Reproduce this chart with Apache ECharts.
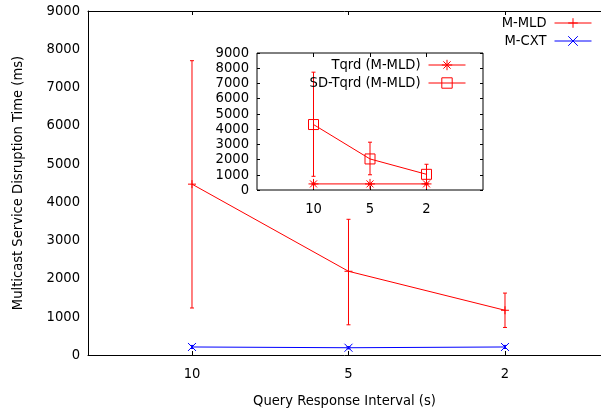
<!DOCTYPE html>
<html><head><meta charset="utf-8">
<script src="https://cdn.jsdelivr.net/npm/echarts@6/dist/echarts.min.js"></script>
<style>html,body{margin:0;padding:0;background:#fff}#c{width:601px;height:414px}</style>
</head><body><div id="c"></div>
<script>
// ---- data ----
const categories = ['10', '5', '2'];
const mmld = [4470, 2190, 1170];
const mmldLow = [1230, 790, 720];
const mmldHigh = [7700, 3550, 1620];
const mcxt = [210, 190, 210];
const mcxtLow = [170, 160, 170];
const mcxtHigh = [250, 220, 250];
const tqrd = [400, 400, 400];
const tqrdLow = [360, 360, 360];
const tqrdHigh = [440, 440, 440];
const sdTqrd = [4300, 2040, 1030];
const sdTqrdLow = [900, 1000, 420];
const sdTqrdHigh = [7740, 3140, 1690];

const FONT = "'DejaVu Sans Condensed', 'DejaVu Sans', sans-serif";
const pts = arr => arr.map((v, i) => [i, v]);
const errs = (lo, hi) => lo.map((v, i) => [i, v, hi[i]]);

function errRender(color, cap) {
  return function (params, api) {
    const x = api.value(0);
    const a = api.coord([x, api.value(1)]);
    const b = api.coord([x, api.value(2)]);
    const st = { stroke: color, lineWidth: 1 };
    return { type: 'group', children: [
      { type: 'line', shape: { x1: a[0], y1: a[1], x2: b[0], y2: b[1] }, style: st },
      { type: 'line', shape: { x1: a[0] - cap, y1: a[1], x2: a[0] + cap, y2: a[1] }, style: st },
      { type: 'line', shape: { x1: b[0] - cap, y1: b[1], x2: b[0] + cap, y2: b[1] }, style: st }
    ]};
  };
}

const PLUS = 'path://M0,4L8,4M4,0L4,8';
const CROSS = 'path://M0,0L8,8M0,8L8,0';
const STAR = 'path://M0,5L10,5M5,0L5,10M1.5,1.5L8.5,8.5M1.5,8.5L8.5,1.5';
const SQUARE = 'path://M0,0L10,0L10,10L0,10Z';
const RED = '#ff0000', BLUE = '#0000ff';
const CLEAR = 'rgba(255,255,255,0)';

const txt = { fontFamily: FONT, fontSize: 14.6, color: '#000' };
const blackLine = { show: true, onZero: false, lineStyle: { color: '#000', width: 1 } };
function xAx(grid, pos, min, max, showLabel, extra) {
  return Object.assign({
    type: 'value', gridIndex: grid, position: pos, min: min, max: max,
    axisLine: blackLine, splitLine: { show: false },
    axisTick: { show: true, inside: true, length: 4, customValues: [0, 1, 2], lineStyle: { color: '#000' } },
    axisLabel: { show: showLabel, customValues: [0, 1, 2], formatter: v => categories[Math.round(v)], margin: 12, ...txt }
  }, extra || {});
}

const option = {
  animation: false,
  backgroundColor: '#fff',
  grid: [
    { left: 88, top: 11, width: 513, height: 344, show: false },
    { left: 257, top: 53, width: 226, height: 137, show: true, borderColor: '#000', borderWidth: 1, backgroundColor: '#fff', z: 5 }
  ],
  xAxis: [
    xAx(0, 'bottom', -0.6645, 2.6135, true, { name: 'Query Response Interval (s)', nameLocation: 'middle', nameGap: 39, nameTextStyle: txt }),
    xAx(0, 'top', -0.6645, 2.6135, false),
    xAx(1, 'bottom', -1, 3, true, { z: 6, axisLine: { show: false, onZero: false } }),
    xAx(1, 'top', -1, 3, false, { z: 6, axisLine: { show: false, onZero: false } })
  ],
  yAxis: [
    { type: 'value', gridIndex: 0, min: 0, max: 9000, interval: 1000,
      axisLine: blackLine, axisTick: { show: false }, splitLine: { show: false },
      axisLabel: { margin: 8, formatter: v => String(v), ...txt },
      name: 'Multicast Service Disruption Time (ms)', nameLocation: 'middle', nameRotate: 90, nameGap: 62, nameTextStyle: txt },
    { type: 'value', gridIndex: 1, min: 0, max: 9000, interval: 1000, position: 'left', z: 6,
      axisLine: { show: false, onZero: false }, splitLine: { show: false },
      axisTick: { show: true, inside: true, length: 3, lineStyle: { color: '#000' } },
      axisLabel: { margin: 8, formatter: v => String(v), ...txt, lineHeight: 14 } },
    { type: 'value', gridIndex: 1, min: 0, max: 9000, interval: 1000, position: 'right', z: 6,
      axisLine: { show: false, onZero: false }, splitLine: { show: false },
      axisTick: { show: true, inside: true, length: 3, lineStyle: { color: '#000' } },
      axisLabel: { show: false } }
  ],
  legend: [
    { data: ['M-MLD', 'M-CXT'], orient: 'vertical', right: 9, top: 14, padding: 0, align: 'right',
      itemWidth: 37, itemHeight: 12, itemGap: 0, selectedMode: false,
      lineStyle: { width: 1 }, itemStyle: { borderWidth: 1 },
      textStyle: { ...txt, lineHeight: 18, padding: [0, 3, 0, 0] } },
    { data: ['Tqrd (M-MLD)', 'SD-Tqrd (M-MLD)'], orient: 'vertical', right: 135, top: 56, padding: 0, align: 'right',
      itemWidth: 37, itemHeight: 13, itemGap: 0, selectedMode: false, z: 10,
      lineStyle: { width: 1 }, itemStyle: { borderWidth: 1 },
      textStyle: { ...txt, lineHeight: 18, padding: [0, 3, 0, 0] } }
  ],
  series: [
    { type: 'custom', xAxisIndex: 0, yAxisIndex: 0, renderItem: errRender(RED, 2), data: errs(mmldLow, mmldHigh), encode: { x: 0, y: [1, 2] }, z: 2, silent: true },
    { type: 'custom', xAxisIndex: 0, yAxisIndex: 0, renderItem: errRender(BLUE, 2), data: errs(mcxtLow, mcxtHigh), encode: { x: 0, y: [1, 2] }, z: 2, silent: true },
    { name: 'M-MLD', type: 'line', xAxisIndex: 0, yAxisIndex: 0, data: pts(mmld), symbol: PLUS, symbolSize: 8,
      color: RED, itemStyle: { color: RED, borderColor: RED, borderWidth: 1 }, lineStyle: { color: RED, width: 1 }, z: 3 },
    { name: 'M-CXT', type: 'line', xAxisIndex: 0, yAxisIndex: 0, data: pts(mcxt), symbol: CROSS, symbolSize: 8,
      color: BLUE, itemStyle: { color: BLUE, borderColor: BLUE, borderWidth: 1 }, lineStyle: { color: BLUE, width: 1 }, z: 3 },
    { type: 'custom', xAxisIndex: 2, yAxisIndex: 1, renderItem: errRender(RED, 2), data: errs(tqrdLow, tqrdHigh), encode: { x: 0, y: [1, 2] }, z: 7, silent: true },
    { type: 'custom', xAxisIndex: 2, yAxisIndex: 1, renderItem: errRender(RED, 2), data: errs(sdTqrdLow, sdTqrdHigh), encode: { x: 0, y: [1, 2] }, z: 7, silent: true },
    { name: 'Tqrd (M-MLD)', type: 'line', xAxisIndex: 2, yAxisIndex: 1, data: pts(tqrd), symbol: STAR, symbolSize: 10,
      color: RED, itemStyle: { color: RED, borderColor: RED, borderWidth: 1 }, lineStyle: { color: RED, width: 1 }, z: 8 },
    { name: 'SD-Tqrd (M-MLD)', type: 'line', xAxisIndex: 2, yAxisIndex: 1, data: pts(sdTqrd), symbol: SQUARE, symbolSize: 10,
      color: RED, itemStyle: { color: CLEAR, borderColor: RED, borderWidth: 1 }, lineStyle: { color: RED, width: 1 }, z: 8 }
  ]
};
const chart = echarts.init(document.getElementById('c'), null, { renderer: 'canvas' });
chart.setOption(option);
</script></body></html>
